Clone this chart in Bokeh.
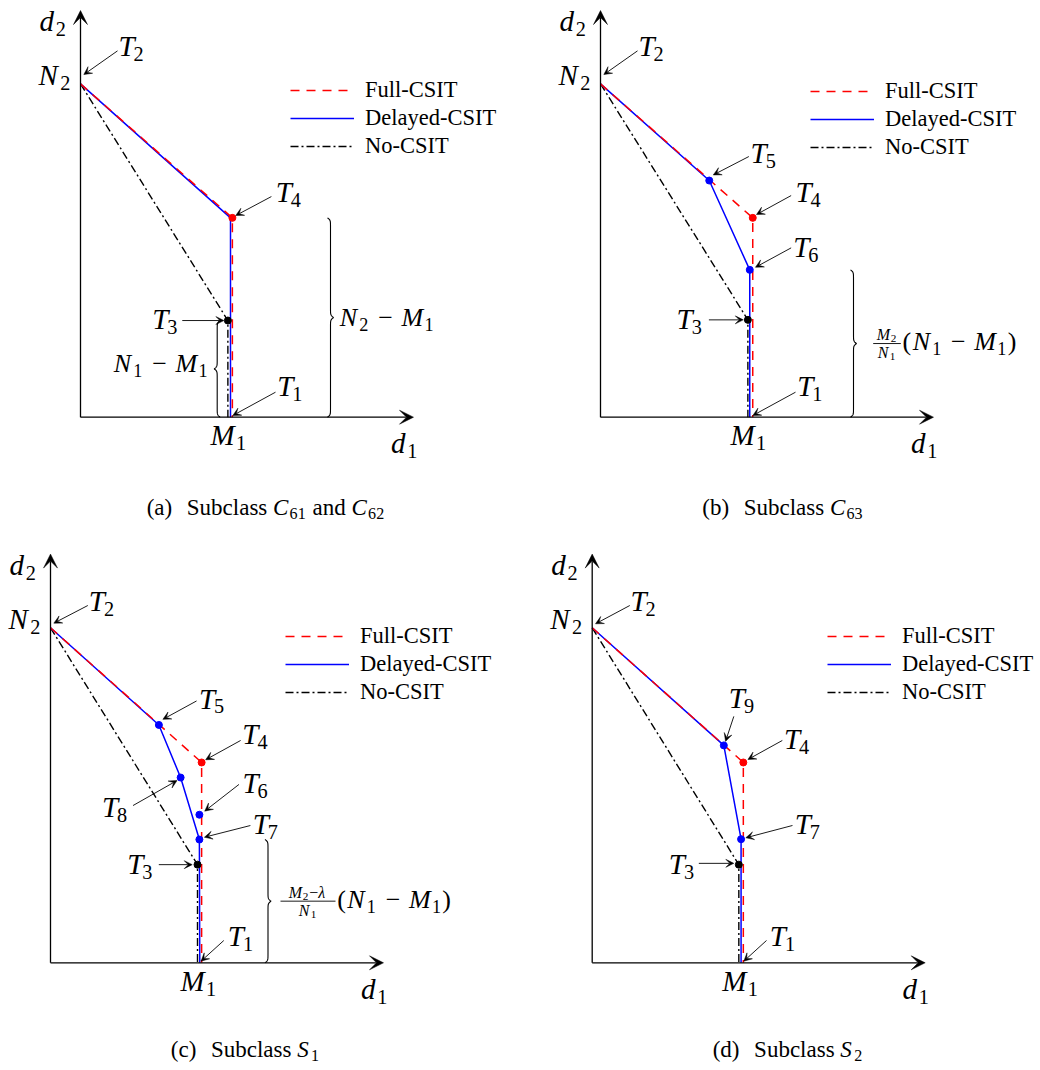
import numpy as np
from bokeh.plotting import figure
from bokeh.layouts import column, row
from bokeh.models import Range1d, Label, Arrow, VeeHead, Legend, LegendItem
from bokeh.embed import file_html
from bokeh.resources import INLINE

SERIF = "'Liberation Serif', 'Times New Roman', serif"

# ---------------- data (d1 in units where M1 = 4, d2 in units where N2 = 10) ----------------
N2_LEVEL = 10.0
M1_LEVEL = 4.0
D1_AXIS_END = 8.88
D2_AXIS_END = 12.2
AXIS_LABELS = ["d_1", "d_2"]
X_TICK_LABELS = ["M_1"]
Y_TICK_LABELS = ["N_2"]
SERIES = ["Full-CSIT", "Delayed-CSIT", "No-CSIT"]

# (a) Subclass C61 and C62
A_FULL_D1 = [0.0, 4.05, 4.05]
A_FULL_D2 = [10.0, 5.98, 0.0]
A_DELAYED_D1 = [0.0, 4.00, 4.00]
A_DELAYED_D2 = [10.0, 5.98, 0.0]
A_NO_D1 = [0.0, 3.93, 3.93]
A_NO_D2 = [10.0, 2.90, 0.0]
A_POINTS = ["T_4", "T_3"]
A_POINTS_D1 = [4.05, 3.93]
A_POINTS_D2 = [5.98, 2.90]
A_POINTS_SERIES = ["Full-CSIT", "No-CSIT"]

# (b) Subclass C63
B_FULL_D1 = [0.0, 4.06, 4.06]
B_FULL_D2 = [10.0, 5.98, 0.0]
B_DELAYED_D1 = [0.0, 2.90, 3.98, 3.98]
B_DELAYED_D2 = [10.0, 7.10, 4.42, 0.0]
B_NO_D1 = [0.0, 3.93, 3.93]
B_NO_D2 = [10.0, 2.92, 0.0]
B_POINTS = ["T_5", "T_4", "T_6", "T_3"]
B_POINTS_D1 = [2.90, 4.06, 3.98, 3.93]
B_POINTS_D2 = [7.10, 5.98, 4.42, 2.92]
B_POINTS_SERIES = ["Delayed-CSIT", "Full-CSIT", "Delayed-CSIT", "No-CSIT"]

# (c) Subclass S1
C_FULL_D1 = [0.0, 4.03, 4.03]
C_FULL_D2 = [10.0, 5.98, 0.0]
C_DELAYED_D1 = [0.0, 2.89, 3.47, 3.97, 3.98]
C_DELAYED_D2 = [10.0, 7.10, 5.53, 3.68, 0.0]
C_NO_D1 = [0.0, 3.92, 3.92]
C_NO_D2 = [10.0, 2.93, 0.0]
C_POINTS = ["T_5", "T_4", "T_8", "T_6", "T_7", "T_3"]
C_POINTS_D1 = [2.89, 4.03, 3.47, 3.97, 3.97, 3.92]
C_POINTS_D2 = [7.10, 5.98, 5.53, 4.42, 3.68, 2.93]
C_POINTS_SERIES = ["Delayed-CSIT", "Full-CSIT", "Delayed-CSIT", "Delayed-CSIT", "Delayed-CSIT", "No-CSIT"]

# (d) Subclass S2
D_FULL_D1 = [0.0, 4.03, 4.03]
D_FULL_D2 = [10.0, 5.98, 0.0]
D_DELAYED_D1 = [0.0, 3.51, 3.97, 3.97]
D_DELAYED_D2 = [10.0, 6.49, 3.69, 0.0]
D_NO_D1 = [0.0, 3.91, 3.91]
D_NO_D2 = [10.0, 2.93, 0.0]
D_POINTS = ["T_9", "T_4", "T_7", "T_3"]
D_POINTS_D1 = [3.51, 4.03, 3.97, 3.91]
D_POINTS_D2 = [6.49, 5.98, 3.69, 2.93]
D_POINTS_SERIES = ["Delayed-CSIT", "Full-CSIT", "Delayed-CSIT", "No-CSIT"]

# ---------------- styles ----------------
COLORS = {"Full-CSIT": "#ff0000", "Delayed-CSIT": "#0000ff", "No-CSIT": "#000000"}
W_RM = {" ": .25, "(": .39, ")": .39, "a": .444, "b": .5, "c": .444, "d": .5, "n": .5,
        "l": .278, "s": .389, "u": .5, "S": .556, "\u2212": .564}
W_IT = {"N": .75, "M": .88, "T": .52, "d": .56, "C": .72, "S": .6, "\u03bb": .56}
BASE_FIX = 0.3375  # label anchor sits at mid-height of the font box; shift to put baseline on target


def parse_math(s):
    toks, i = [], 0
    while i < len(s):
        c = s[i]
        if c == "_":
            j = i + 1
            while j < len(s) and s[j].isalnum():
                j += 1
            toks.append(("sub", s[i + 1:j]))
            i = j
            continue
        if c == " ":
            toks.append(("sp", 0.33))
        elif c.isalpha():
            toks.append(("it", c))
        else:
            toks.append(("rm", c))
        i += 1
    return toks


def render(p, x, y, dx, dy, toks, size, align="left"):
    placed, cur = [], 0.0
    for kind, val in toks:
        if kind == "sp":
            cur += val * size
            continue
        if kind == "gap":
            cur += val
            continue
        if kind == "it":
            fs, style, off = size, "italic", 0.0
            w = sum(W_IT.get(ch, .5) for ch in val) * fs
        elif kind == "sub":
            fs, style, off = 0.7 * size, "normal", -0.17 * size
            w = sum(W_RM.get(ch, .5) for ch in val) * fs + 0.05 * size
        else:
            fs, style, off = size, "normal", 0.0
            w = sum(W_RM.get(ch, .5) for ch in val) * fs
        placed.append((val, fs, style, cur, off))
        cur += w
    shift = {"left": 0.0, "center": -cur / 2.0, "right": -cur}[align]
    for val, fs, style, xo, off in placed:
        p.add_layout(Label(x=x, y=y, x_offset=dx + shift + xo,
                           y_offset=dy + off + BASE_FIX * fs, text=val,
                           text_font=SERIF, text_font_size=f"{fs:.1f}px", text_font_style=style,
                           text_color="black", text_align="left", text_baseline="alphabetic"))


class Panel:
    def __init__(self, left, top, W, H, ox, oy, sx, sy):
        self.sx, self.sy = sx, sy
        x0 = -(ox - left) / sx
        y0 = -((top + H) - oy) / sy
        p = figure(width=W, height=H, x_range=Range1d(x0, x0 + W / sx),
                   y_range=Range1d(y0, y0 + H / sy), toolbar_location=None, tools="",
                   output_backend="svg", min_border=0, x_axis_location=None,
                   y_axis_location=None, outline_line_color=None,
                   background_fill_color="white", border_fill_color="white")
        p.grid.visible = False
        self.p = p

    def d(self, x, y, dx=0.0, dy=0.0):
        return x + dx / self.sx, y + dy / self.sy

    def arrow(self, x, y, tail, head, size=8, lw=0.9):
        x0, y0 = self.d(x, y, *tail)
        x1, y1 = self.d(x, y, *head)
        self.p.add_layout(Arrow(x_start=x0, y_start=y0, x_end=x1, y_end=y1, line_width=lw,
                                line_color="black",
                                end=VeeHead(size=size, fill_color="black", line_color="black",
                                            line_width=0.5)))

    def brace(self, stem_px, y_top, direction, w=6.0):
        L = y_top * self.sy
        t = np.linspace(0.0, L / 2.0, 150)
        beta = 0.9
        half = 1.0 / (1.0 + np.exp(-beta * (t - t[0]))) + 1.0 / (1.0 + np.exp(-beta * (t - t[-1])))
        h = half - 0.5
        prof = np.concatenate([h, h[::-1][1:]])
        ts = np.concatenate([t, L - t[::-1][1:]])
        xs = (stem_px + direction * w * (prof - 0.5)) / self.sx
        ys = ts / self.sy
        self.p.line(xs, ys, line_color="black", line_width=1.1)


def build(geom, full, delayed, no, pts, calls, braces, legend_loc, caption, cap_pos):
    P = Panel(*geom)
    p = P.p
    # axes with arrow heads
    for xe, ye in [(D1_AXIS_END, 0.0), (0.0, D2_AXIS_END)]:
        p.add_layout(Arrow(x_start=0.0, y_start=0.0, x_end=xe, y_end=ye, line_width=1.3,
                           line_color="black",
                           end=VeeHead(size=14, fill_color="black", line_color="black",
                                       line_width=0.5)))
    r_no = p.line(no[0], no[1], line_color=COLORS["No-CSIT"], line_width=1.4,
                  line_dash="8 3 2 3")
    r_del = p.line(delayed[0], delayed[1], line_color=COLORS["Delayed-CSIT"], line_width=1.5)
    r_full = p.line(full[0], full[1], line_color=COLORS["Full-CSIT"], line_width=1.5,
                    line_dash="9 7")
    names, px, py, ser = pts
    p.scatter(px, py, size=7, color=[COLORS[s] for s in ser])

    loc = {n: (a, b) for n, a, b in zip(names, px, py)}
    loc["T_2"] = (0.0, N2_LEVEL)
    loc["T_1"] = (M1_LEVEL, 0.0)

    for name, (tpos, tail, head) in calls.items():
        x, y = loc[name]
        P.arrow(x, y, tail, head)
        render(p, x, y, tpos[0], tpos[1], parse_math(name), 29)

    # tick labels and axis labels
    render(p, 0.0, N2_LEVEL, -42, -1, parse_math(Y_TICK_LABELS[0]), 29)
    render(p, M1_LEVEL, 0.0, -20, -28, parse_math(X_TICK_LABELS[0]), 29)
    render(p, D1_AXIS_END, 0.0, -22.6, -36, parse_math(AXIS_LABELS[0]), 29)
    render(p, 0.0, D2_AXIS_END, -41, -20.5, parse_math(AXIS_LABELS[1]), 29)

    # braces
    for b in braces:
        y_top = loc[b["top"]][1]
        P.brace(b["stem"], y_top, b["dir"])
        xs = b["stem"] / P.sx
        ym = y_top / 2.0
        if "frac" in b:
            f0, f1 = b["bar"]
            xa, _ = P.d(xs, ym, f0, 0)
            xb, _ = P.d(xs, ym, f1, 0)
            p.line([xa, xb], [ym, ym], line_color="black", line_width=0.9)
            cen = (f0 + f1) / 2.0
            render(p, xs, ym, cen, 3.5, parse_math(b["frac"][0]), 16, "center")
            render(p, xs, ym, cen, -14.5, parse_math(b["frac"][1]), 16, "center")
        render(p, xs, ym, b["tdx"], b["tdy"], parse_math(b["text"]), 26, b.get("align", "left"))

    legend = Legend(items=[LegendItem(label=SERIES[0], renderers=[r_full]),
                           LegendItem(label=SERIES[1], renderers=[r_del]),
                           LegendItem(label=SERIES[2], renderers=[r_no])],
                    location=legend_loc, orientation="vertical", margin=0, padding=0,
                    spacing=0, glyph_width=64, glyph_height=28, label_height=28,
                    label_standoff=11, label_text_font=SERIF, label_text_font_size="22.5px",
                    label_text_color="black", border_line_color=None,
                    background_fill_alpha=0.0)
    p.add_layout(legend)

    render(p, 0.0, 0.0, cap_pos[0], cap_pos[1], caption, 23, "center")
    return p


CALL_A = {
    "T_2": ((38, 28), (37, 33), (3.3, 9.3)),
    "T_4": ((43.3, 15.6), (39, 21.3), (3.3, 2.3)),
    "T_3": ((-75.6, -8), (-45.6, 0), (-4, 0)),
    "T_1": ((46.7, 21.7), (45, 25), (2.3, 1.7)),
}
CALL_B = {
    "T_2": ((38, 28), (37, 33), (3.3, 9.3)),
    "T_5": ((41.3, 17.3), (39.6, 24), (4, 5.6)),
    "T_4": ((42.7, 15.6), (38.4, 22.3), (3.7, 3.3)),
    "T_6": ((43.4, 12.6), (41.4, 22), (5.7, 2.6)),
    "T_3": ((-71.3, -8.7), (-39, 0), (-4.6, 0)),
    "T_1": ((46.7, 21.7), (45, 25), (2.3, 1.7)),
}
CALL_C = {
    "T_2": ((38.3, 16.6), (37.3, 22.3), (3.3, 4.6)),
    "T_5": ((40, 16.6), (37.7, 24), (4, 5.6)),
    "T_4": ((40.7, 18.7), (39, 22), (4, 2.7)),
    "T_8": ((-78.6, -39.7), (-47.6, -28), (-3.6, -3)),
    "T_6": ((43, 22), (39.6, 30.3), (5.3, 3.6)),
    "T_7": ((53.3, 5.7), (51, 14), (5, 2.3)),
    "T_3": ((-70.3, -9.3), (-38.7, 0), (-5.3, 0)),
    "T_1": ((27.3, 17.3), (23.3, 22.3), (0.5, 1.6)),
}
CALL_D = {
    "T_2": ((38.3, 16.6), (37.6, 22.3), (3.3, 4)),
    "T_9": ((5, 37.4), (10, 29), (1.7, 4)),
    "T_4": ((40.6, 13.7), (39, 22), (4.6, 3)),
    "T_7": ((53.7, 5.4), (51.4, 13.7), (4.7, 1.4)),
    "T_3": ((-70, -9.3), (-40, 1.3), (-5, 1.3)),
    "T_1": ((27.6, 17.3), (24.3, 22.3), (1.6, 1.6)),
}

BR_A = [dict(stem=250, top="T_4", dir=1, text="N_2 \u2212 M_1", tdx=9.3, tdy=-8.4),
        dict(stem=136.7, top="T_3", dir=-1, text="N_1 \u2212 M_1", tdx=-8.4, tdy=-3.4,
             align="right")]
BR_B = [dict(stem=253, top="T_6", dir=1, frac=("M_2", "N_1"), bar=(19.7, 47.3),
             text="(N_1 \u2212 M_1)", tdx=49, tdy=-7)]
BR_C = [dict(stem=217.5, top="T_7", dir=1, frac=("M_2\u2212\u03bb", "N_1"), bar=(12.5, 67.5),
             text="(N_1 \u2212 M_1)", tdx=69.2, tdy=-7)]


def cap(tag, letter, subs):
    toks = [("rm", tag), ("gap", 12), ("rm", "Subclass"), ("sp", 0.25)]
    for k, s in enumerate(subs):
        if k > 0:
            toks += [("sp", 0.25), ("rm", "and"), ("sp", 0.25)]
        toks += [("it", letter), ("sub", s)]
    return toks


pa = build((0, 0, 520, 540, 80, 416.7, 37.5, 33.333),
           (A_FULL_D1, A_FULL_D2), (A_DELAYED_D1, A_DELAYED_D2), (A_NO_D1, A_NO_D2),
           (A_POINTS, A_POINTS_D1, A_POINTS_D2, A_POINTS_SERIES), CALL_A, BR_A,
           (290, 380), cap("(a)", "C", ["61", "62"]), (185.5, -98.3))
pb = build((520, 0, 518, 540, 600, 416.7, 37.5, 33.333),
           (B_FULL_D1, B_FULL_D2), (B_DELAYED_D1, B_DELAYED_D2), (B_NO_D1, B_NO_D2),
           (B_POINTS, B_POINTS_D1, B_POINTS_D2, B_POINTS_SERIES), CALL_B, BR_B,
           (290, 379), cap("(b)", "C", ["63"]), (182.5, -98.3))
pc = build((0, 540, 520, 528, 50, 962.3, 37.5, 33.5),
           (C_FULL_D1, C_FULL_D2), (C_DELAYED_D1, C_DELAYED_D2), (C_NO_D1, C_NO_D2),
           (C_POINTS, C_POINTS_D1, C_POINTS_D2, C_POINTS_SERIES), CALL_C, BR_C,
           (285, 362), cap("(c)", "S", ["1"]), (195, -94.0))
pd_ = build((520, 540, 518, 528, 591.7, 962.3, 37.5, 33.5),
            (D_FULL_D1, D_FULL_D2), (D_DELAYED_D1, D_DELAYED_D2), (D_NO_D1, D_NO_D2),
            (D_POINTS, D_POINTS_D1, D_POINTS_D2, D_POINTS_SERIES), CALL_D, [],
            (307, 362), cap("(d)", "S", ["2"]), (195.8, -94.0))

layout = column(row(pa, pb), row(pc, pd_))
open("out.html", "w").write(file_html(layout, INLINE, title="DoF regions"))
